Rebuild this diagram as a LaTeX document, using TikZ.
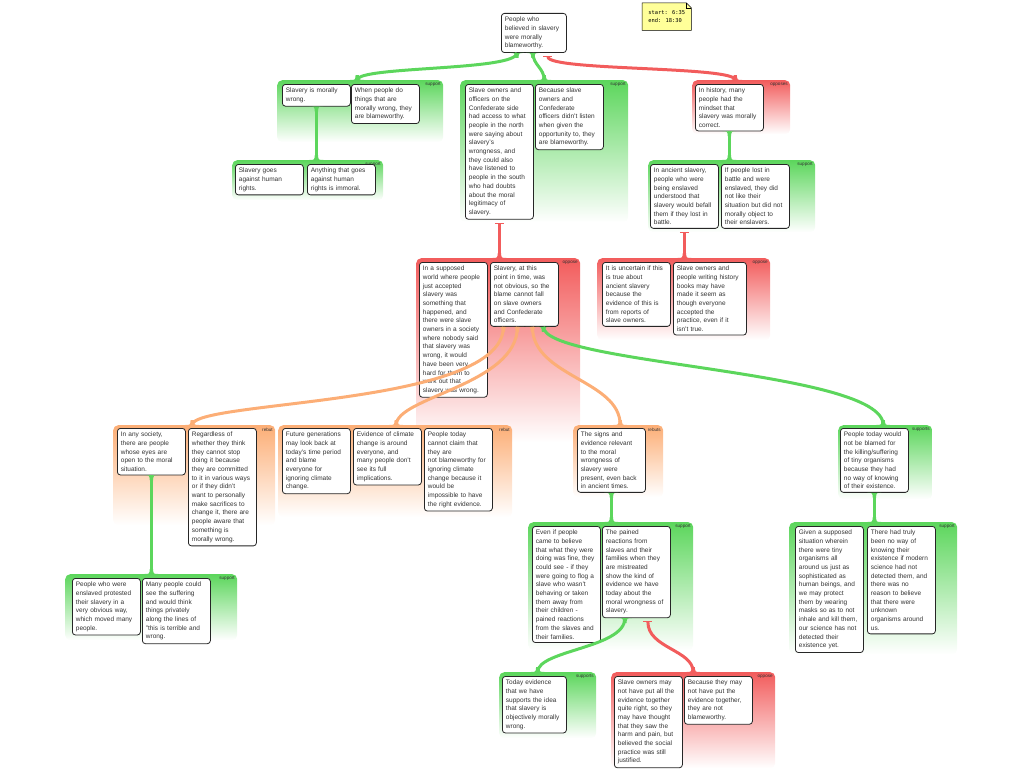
\documentclass[tikz,border=0pt]{standalone}
\usepackage{fontspec}
\setmainfont{Liberation Sans}
\newfontfamily\notefont{DejaVu Sans Mono}
\usepackage{xcolor}
\usepackage{tikz}
\usetikzlibrary{arrows.meta,backgrounds}

\definecolor{grn}{HTML}{5CD65C}
\definecolor{rd}{HTML}{F25C5C}
\definecolor{org}{HTML}{FCAE76}
\definecolor{notecol}{HTML}{FFFF99}

% widening where a connector meets a box or a group
\newcommand{\flare}[3]{%
    \fill[#2] ([xshift=-7pt]#1) .. controls ([xshift=-2pt]#1) .. ([xshift=-1.6pt,yshift=#3*5pt]#1)
      -- ([xshift=1.6pt,yshift=#3*5pt]#1) .. controls ([xshift=2pt]#1) .. ([xshift=7pt]#1) -- cycle;}

\tikzset{
    box/.style={draw=black!85, fill=white, rounded corners=3pt, line width=0.8pt,
      anchor=north west, text width=61pt, align=left, inner sep=3.5pt,
      font=\fontsize{6.5}{8.7}\selectfont, text=black!80},
    tag/.style={anchor=north east, inner sep=2.5pt, font=\fontsize{4.6}{5}\selectfont, text=black!80},
    grp/.style 2 args={anchor=north west, rounded corners=5pt, inner sep=0pt,
      top color=#1, bottom color=white, label={[tag]north east:#2}},
    sup/.style={draw=grn, line width=3pt},
    reb/.style={draw=org, line width=3pt},
    opp/.style={draw=rd, line width=3pt, arrows={Bar[width=9pt,line width=1.2pt]-}, shorten <=3pt},
}

\begin{document}
\begin{tikzpicture}[x=1pt, y=-1pt]
    \useasboundingbox (0,0) rectangle (1024,768);

    % groups
    \node(gA) at (277,80) [grp={grn}{support}, minimum width=166pt, minimum height=62pt] {};
    \node(gB) at (460,80) [grp={grn}{support}, minimum width=168pt, minimum height=142pt] {};
    \node(gC) at (692,80) [grp={rd}{opposes}, minimum width=98pt, minimum height=54pt] {};
    \node(gD) at (232,160) [grp={grn}{support}, minimum width=151pt, minimum height=40pt] {};
    \node(gE) at (648,160) [grp={grn}{support}, minimum width=167pt, minimum height=72pt] {};
    \node(gF) at (416,258) [grp={rd}{oppose}, minimum width=164pt, minimum height=184pt] {};
    \node(gG) at (597,258) [grp={rd}{oppose}, minimum width=173pt, minimum height=82pt] {};
    \node(gH) at (113,425) [grp={org}{rebut}, minimum width=162pt, minimum height=100pt] {};
    \node(gI) at (278,425) [grp={org}{rebut}, minimum width=234pt, minimum height=92pt] {};
    \node(gJ) at (573,425) [grp={org}{rebuts}, minimum width=90pt, minimum height=72pt] {};
    \node(gK) at (838,425) [grp={grn}{supports}, minimum width=94pt, minimum height=74pt] {};
    \node(gL) at (528,522) [grp={grn}{support}, minimum width=165pt, minimum height=128pt] {};
    \node(gM) at (789,522) [grp={grn}{support}, minimum width=168pt, minimum height=132pt] {};
    \node(gN) at (65,574) [grp={grn}{support}, minimum width=172pt, minimum height=66pt] {};
    \node(gO) at (499,672) [grp={grn}{supports}, minimum width=97pt, minimum height=66pt] {};
    \node(gP) at (611,672) [grp={rd}{oppose}, minimum width=164pt, minimum height=96pt] {};

    % claims
    \node(root) at (501,13) [box, text width=58pt] {People who\\believed in slavery\\were morally\\blameworthy.};

    \node(A1) at (282,84) [box] {Slavery is morally\\wrong.};
    \node(A2) at (351,84) [box] {When people do\\things that are\\morally wrong, they\\are blameworthy.};
    \node(B1) at (465,84) [box] {Slave owners and\\officers on the\\Confederate side\\had access to what\\people in the north\\were saying about\\slavery's\\wrongness, and\\they could also\\have listened to\\people in the south\\who had doubts\\about the moral\\legitimacy of\\slavery.};
    \node(B2) at (535,84) [box] {Because slave\\owners and\\Confederate\\officers didn't listen\\when given the\\opportunity to, they\\are blameworthy.};
    \node(C1) at (695,84) [box] {In history, many\\people had the\\mindset that\\slavery was morally\\correct.};

    \node(D1) at (235,164) [box] {Slavery goes\\against human\\rights.};
    \node(D2) at (307,164) [box] {Anything that goes\\against human\\rights is immoral.};
    \node(E1) at (650,164) [box] {In ancient slavery,\\people who were\\being enslaved\\understood that\\slavery would befall\\them if they lost in\\battle.};
    \node(E2) at (721,164) [box] {If people lost in\\battle and were\\enslaved, they did\\not like their\\situation but did not\\morally object to\\their enslavers.};

    \node(F1) at (419,262) [box] {In a supposed\\world where people\\just accepted\\slavery was\\something that\\happened, and\\there were slave\\owners in a society\\where nobody said\\that slavery was\\wrong, it would\\have been very\\hard for them to\\work out that\\slavery was wrong.};
    \node(F2) at (490,262) [box] {Slavery, at this\\point in time, was\\not obvious, so the\\blame cannot fall\\on slave owners\\and Confederate\\officers.};
    \node(G1) at (602,262) [box] {It is uncertain if this\\is true about\\ancient slavery\\because the\\evidence of this is\\from reports of\\slave owners.};
    \node(G2) at (673,262) [box, text width=66pt] {Slave owners and\\people writing history\\books may have\\made it seem as\\though everyone\\accepted the\\practice, even if it\\isn't true.};

    \node(H1) at (117,428) [box] {In any society,\\there are people\\whose eyes are\\open to the moral\\situation.};
    \node(H2) at (188,428) [box] {Regardless of\\whether they think\\they cannot stop\\doing it because\\they are committed\\to it in various ways\\or if they didn't\\want to personally\\make sacrifices to\\change it, there are\\people aware that\\something is\\morally wrong.};
    \node(I1) at (282,428) [box] {Future generations\\may look back at\\today's time period\\and blame\\everyone for\\ignoring climate\\change.};
    \node(I2) at (353,428) [box] {Evidence of climate\\change is around\\everyone, and\\many people don't\\see its full\\implications.};
    \node(I3) at (424,428) [box] {People today\\cannot claim that\\they are\\not blameworthy for\\ignoring climate\\change because it\\would be\\impossible to have\\the right evidence.};
    \node(J1) at (577,428) [box] {The signs and\\evidence relevant\\to the moral\\wrongness of\\slavery were\\present, even back\\in ancient times.};
    \node(K1) at (840,428) [box] {People today would\\not be blamed for\\the killing/suffering\\of tiny organisms\\because they had\\no way of knowing\\of their existence.};

    \node(L1) at (532,526) [box] {Even if people\\came to believe\\that what they were\\doing was fine, they\\could see - if they\\were going to flog a\\slave who wasn't\\behaving or taken\\them away from\\their children -\\pained reactions\\from the slaves and\\their families.};
    \node(L2) at (602,526) [box] {The pained\\reactions from\\slaves and their\\families when they\\are mistreated\\show the kind of\\evidence we have\\today about the\\moral wrongness of\\slavery.};
    \node(M1) at (795,526) [box] {Given a supposed\\situation wherein\\there were tiny\\organisms all\\around us just as\\sophisticated as\\human beings, and\\we may protect\\them by wearing\\masks so as to not\\inhale and kill them,\\our science has not\\detected their\\existence yet.};
    \node(M2) at (867,526) [box] {There had truly\\been no way of\\knowing their\\existence if modern\\science had not\\detected them, and\\there was no\\reason to believe\\that there were\\unknown\\organisms around\\us.};
    \node(N1) at (72,578) [box] {People who were\\enslaved protested\\their slavery in a\\very obvious way,\\which moved many\\people.};
    \node(N2) at (142,578) [box] {Many people could\\see the suffering\\and would think\\things privately\\along the lines of\\"this is terrible and\\wrong.};

    \node(O1) at (502,676) [box, text width=57pt] {Today evidence\\that we have\\supports the idea\\that slavery is\\objectively morally\\wrong.};
    \node(P1) at (614,676) [box] {Slave owners may\\not have put all the\\evidence together\\quite right, so they\\may have thought\\that they saw the\\harm and pain, but\\believed the social\\practice was still\\justified.};
    \node(P2) at (684,676) [box] {Because they may\\not have put the\\evidence together,\\they are not\\blameworthy.};

    % note
    \node(note) at (642,3) [anchor=north west, minimum width=49pt, minimum height=27pt, inner sep=3.5pt,
      align=left, font=\notefont\fontsize{5.4}{8.5}\selectfont] {start: 6:35\\end: 18:30};
    \begin{scope}[on background layer]
      \draw[fill=notecol, line width=0.5pt] (note.south west) -- (note.north west) -- ([xshift=-5pt]note.north east)
        -- ([yshift=-5pt]note.north east) -- (note.south east) -- cycle;
    \end{scope}
    \draw[line width=0.5pt] ([xshift=-5pt]note.north east) -- ([xshift=-5pt,yshift=-5pt]note.north east) -- ([yshift=-5pt]note.north east);

    % ends of the connectors
    \coordinate (sA) at ([xshift=-17pt]root.south);
    \coordinate (sB) at ([xshift=-1pt]root.south);
    \coordinate (sH) at ([xshift=-21pt]F2.south);
    \coordinate (sI) at ([xshift=-7pt]F2.south);
    \coordinate (sJ) at ([xshift=8pt]F2.south);
    \coordinate (sK) at ([xshift=19pt]F2.south);
    \coordinate (sO) at ([xshift=-11.5pt]L2.south);
    \coordinate (eA) at ([xshift=-3pt]gA.north);
    \coordinate (eB) at (gB.north);
    \coordinate (eC) at ([xshift=-6pt]gC.north);
    \coordinate (eD) at (A1.south |- gD.north);
    \coordinate (eE) at (C1.south |- gE.north);
    \coordinate (eF) at (B1.south |- gF.north);
    \coordinate (eG) at (E1.south |- gG.north);
    \coordinate (eH) at ([xshift=-2pt]gH.north);
    \coordinate (eI) at ([xshift=1pt]gI.north);
    \coordinate (eJ) at ([xshift=2pt]gJ.north);
    \coordinate (eK) at ([xshift=-2pt]gK.north);
    \coordinate (eL) at (J1.south |- gL.north);
    \coordinate (eM) at (K1.south |- gM.north);
    \coordinate (eN) at (H1.south |- gN.north);
    \coordinate (eO) at ([xshift=-10pt]gO.north);
    \coordinate (eP) at (gP.north);

    % connectors
    \draw[sup] (sA) .. controls +(0,18) and +(0,-14) .. (eA);
    \draw[sup] (sB) .. controls +(0,12) and +(0,-12) .. (eB);
    \draw[opp] ([xshift=14pt]root.south) .. controls +(0,18) and +(0,-14) .. (eC);
    \draw[sup] (A1.south) -- (eD);
    \draw[sup] (C1.south) -- (eE);
    \draw[opp] (B1.south) -- (eF);
    \draw[opp] (E1.south) -- (eG);
    \draw[reb] (sH) .. controls +(0,80) and +(0,-25) .. (eH);
    \draw[reb] (sI) .. controls +(0,58) and +(0,-28) .. (eI);
    \draw[reb] (sJ) .. controls +(0,50) and +(0,-45) .. (eJ);
    \draw[sup] (sK) .. controls +(0,38) and +(0,-55) .. (eK);
    \draw[sup] (J1.south) -- (eL);
    \draw[sup] (K1.south) -- (eM);
    \draw[sup] (H1.south) -- (eN);
    \draw[sup] (sO) .. controls +(0,30) and +(0,-22) .. (eO);
    \draw[opp] ([xshift=11.5pt]L2.south) .. controls +(0,30) and +(0,-22) .. (eP);

    \flare{sA}{grn}{-1} \flare{sB}{grn}{-1}
    \flare{A1.south}{grn}{-1} \flare{C1.south}{grn}{-1}
    \flare{sH}{org}{-1} \flare{sI}{org}{-1} \flare{sJ}{org}{-1} \flare{sK}{grn}{-1}
    \flare{J1.south}{grn}{-1} \flare{K1.south}{grn}{-1} \flare{H1.south}{grn}{-1} \flare{sO}{grn}{-1}
    \flare{eA}{grn}{1} \flare{eB}{grn}{1} \flare{eC}{rd}{1} \flare{eD}{grn}{1}
    \flare{eE}{grn}{1} \flare{eF}{rd}{1} \flare{eG}{rd}{1} \flare{eH}{org}{1}
    \flare{eI}{org}{1} \flare{eJ}{org}{1} \flare{eK}{grn}{1} \flare{eL}{grn}{1}
    \flare{eM}{grn}{1} \flare{eN}{grn}{1} \flare{eO}{grn}{1} \flare{eP}{rd}{1}
\end{tikzpicture}
\end{document}
